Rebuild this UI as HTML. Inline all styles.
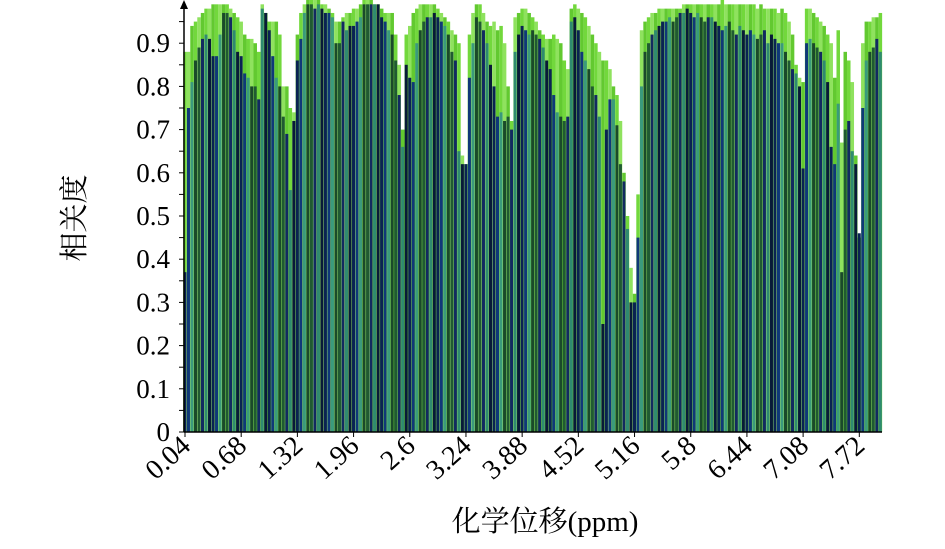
<!DOCTYPE html>
<html><head><meta charset="utf-8"><style>
html,body{margin:0;padding:0;background:#fff;}
svg text{font-family:"Liberation Serif","Noto Serif CJK SC","Noto Sans CJK SC",serif;fill:#000;}
</style></head><body>
<svg id="chart" width="945" height="544" viewBox="0 0 945 544" xmlns="http://www.w3.org/2000/svg">
<g id="bars"></g>
<g id="axes"></g>
<text transform="translate(84,218) rotate(-90)" text-anchor="middle" font-size="29">相关度</text>
<text x="545" y="531" text-anchor="middle" font-size="29">化学位移(ppm)</text>
</svg>
<script>
const startPpm = 0.04;
const stepPpm = 0.04;
const seriesLight = [
.88,.88,.94,.95,.96,.97,.98,.98,.99,.99, .99,.99,.99,.98,.97,.96,.95,.92,.91,.91,
.90,.88,.99,.97,.95,.95,.95,.92,.80,.80, .75,.74,.92,.97,.99,1.0,1.0,1.0,1.0,.99,
.99,.98,.97,.95,.95,.96,.97,.97,.98,.98, .99,1.0,1.0,1.0,.99,.99,.98,.97,.97,.97,
.92,.85,.70,.92,.94,.97,.98,.99,.99,.99, .99,.99,.98,.97,.96,.95,.93,.92,.90,.64,
.62,.92,.97,.99,.99,.97,.95,.94,.95,.93, .94,.90,.80,.72,.96,.97,.98,.98,.97,.96,
.95,.93,.92,.91,.91,.92,.91,.90,.86,.84, .98,.99,.98,.97,.96,.94,.92,.90,.88,.86,
.86,.84,.80,.78,.72,.60,.50,.38,.32,.55, .93,.95,.96,.97,.97,.98,.98,.98,.98,.98,
.98,.98,.99,.99,.99,.99,.99,.99,.99,.99, .99,.99,.99,1.0,.99,.99,.99,.99,.99,.99,
.99,.99,.99,.98,.99,.98,.98,.98,.98,.97, .98,.97,.95,.92,.85,.82,.81,.98,.98,.97,
.96,.95,.94,.92,.90,.82,.93,.67,.88,.86, .81,.64,.45,.90,.95,.95,.96,.96,.97
];
const seriesDark = [
.37,.75,.81,.86,.89,.91,.92,.91,.87,.87, .92,.97,.97,.96,.93,.88,.87,.83,.82,.80,
.80,.77,.98,.97,.93,.87,.82,.80,.73,.69, .56,.72,.86,.91,.97,.99,.99,.98,.99,.98,
.97,.97,.96,.90,.90,.95,.93,.94,.94,.95, .96,.99,.99,.99,.99,.99,.96,.95,.93,.92,
.86,.78,.66,.85,.82,.81,.90,.93,.95,.96, .96,.97,.96,.95,.94,.92,.88,.86,.65,.62,
.62,.82,.90,.96,.95,.93,.90,.85,.80,.73, .74,.72,.73,.70,.88,.92,.94,.93,.92,.93,
.92,.91,.89,.86,.84,.78,.74,.73,.72,.73, .95,.96,.93,.88,.86,.84,.80,.78,.73,.25,
.70,.77,.77,.71,.62,.58,.47,.30,.30,.45, .80,.88,.90,.92,.93,.94,.95,.95,.96,.95,
.96,.97,.97,.98,.97,.96,.97,.96,.95,.96, .96,.95,.94,.93,.94,.95,.93,.92,.94,.93,
.92,.93,.92,.91,.92,.93,.90,.92,.91,.90, .90,.88,.86,.84,.83,.80,.61,.90,.91,.90,
.89,.88,.86,.81,.66,.62,.76,.37,.70,.72, .65,.62,.46,.75,.86,.88,.89,.91,.88
];
const yTicks = ["0","0.1","0.2","0.3","0.4","0.5","0.6","0.7","0.8","0.9"];
const xTickLabels = ["0.04","0.68","1.32","1.96","2.6","3.24","3.88","4.52","5.16","5.8","6.44","7.08","7.72"];

const NS = "http://www.w3.org/2000/svg";
const x0 = 185, pxPerPpm = 87.8, y0 = 432, pxPerUnit = 432;
const binW = stepPpm * pxPerPpm;
function xScale(p){ return x0 + (p - startPpm) * pxPerPpm; }
function yScale(v){ return y0 - v * pxPerUnit; }
function mk(tag, attrs, parent){ const e=document.createElementNS(NS,tag); for(const k in attrs) e.setAttribute(k,attrs[k]); parent.appendChild(e); return e; }

const darkColors = ["#0a2352","#1a4a2a","#2f8a70","#0f3878","#205a32","#081a38","#3a9a7c","#122a60"];
const lightColors = ["#72d83c","#8fe25e","#62c930"];
const bars = document.getElementById("bars");
for(let i=0;i<seriesLight.length;i++){
  const cx = xScale(startPpm + i*stepPpm);
  const gl = seriesLight[i], dk = seriesDark[i];
  const r1 = mk("rect",{x:(cx-binW/2).toFixed(2), y:yScale(gl).toFixed(2), width:binW.toFixed(2), height:(gl*pxPerUnit).toFixed(2), fill:lightColors[i%3]}, bars);
  
  
  const r2 = mk("rect",{x:(cx-binW/2+0.2).toFixed(2), y:yScale(dk).toFixed(2), width:(binW-0.5).toFixed(2), height:(dk*pxPerUnit).toFixed(2), fill:darkColors[(i*3)%8]}, bars);
  
  
}

const axes = document.getElementById("axes");
const yAxis = mk("line",{x1:184,y1:y0,x2:184,y2:6,stroke:"#000","stroke-width":1.5},axes);


const arrow = mk("path",{d:"M184,0 L180,9 L188,9 Z",fill:"#000"},axes);


const xAxis = mk("line",{x1:184,y1:y0,x2:882,y2:y0,stroke:"#000","stroke-width":1.5},axes);


for(let k=0;k<=19;k++){
  const y = yScale(k*0.05);
  const t = mk("line",{x1:179,y1:y,x2:184,y2:y,stroke:"#000","stroke-width":1},axes);
  
  
}
yTicks.forEach((lab,k)=>{
  const t = mk("text",{x:170,y:yScale(parseFloat(lab))+9,"text-anchor":"end","font-size":27},axes);
  t.textContent = lab;
  
  
});
xTickLabels.forEach(lab=>{
  const x = xScale(parseFloat(lab));
  const tk = mk("line",{x1:x,y1:y0,x2:x,y2:y0+5,stroke:"#000","stroke-width":1},axes);
  
  
  const t = mk("text",{transform:`translate(${x+7},${y0+16}) rotate(-42)`,"text-anchor":"end","font-size":28},axes);
  t.textContent = lab;
  
  
});
</script>
</body></html>
